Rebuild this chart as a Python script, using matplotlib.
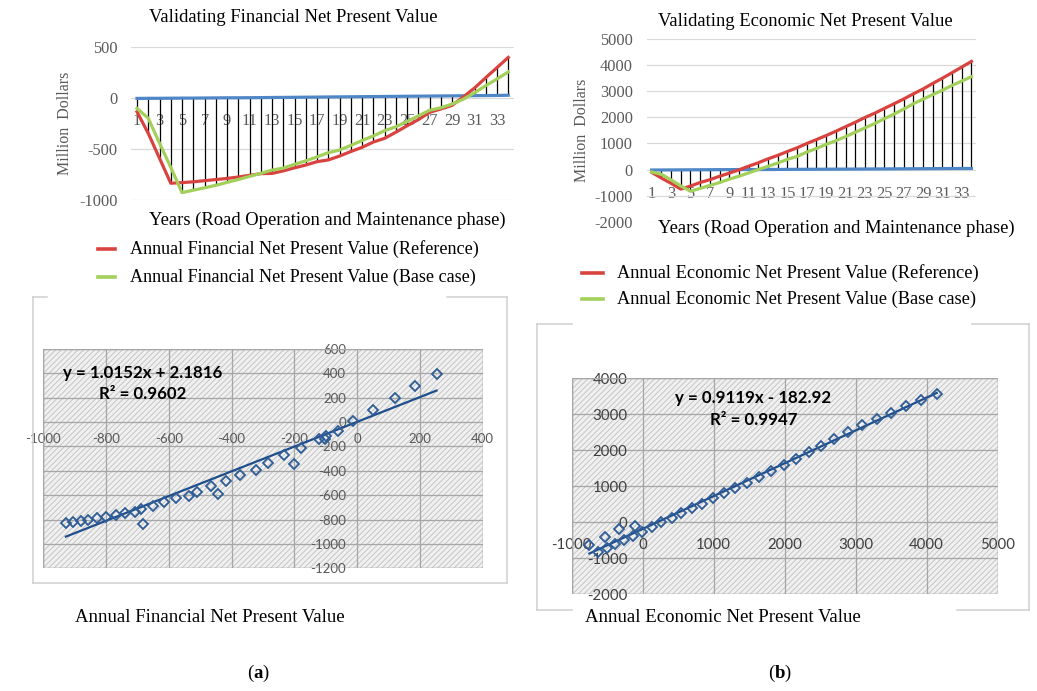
import numpy as np
import matplotlib
matplotlib.use("Agg")
from matplotlib import pyplot as plt
from matplotlib.lines import Line2D
from matplotlib.patches import Rectangle

W, H = 1037, 691
SERIF = "Liberation Serif"
SANS = "Lato"
RED = "#d9433f"
GREEN = "#a2d05a"
BLUE = "#4f86c6"
MARK = "#2e5c96"

years = np.arange(1, 35)

# financial NPV (million dollars): x = base case, y = reference in the fit plot
fin_base = [-104, -200, -444, -681, -928, -904, -881, -856, -828, -800,
            -769, -739, -707, -688, -651, -617, -578, -537, -511, -466,
            -418, -374, -322, -284, -232, -178, -122, -98, -61, -14,
            50, 119, 184, 253]
fin_ref = [-137, -348, -592, -836, -830, -822, -811, -800, -789, -775,
           -759, -742, -740, -715, -685, -658, -625, -608, -570, -526,
           -485, -433, -397, -337, -274, -214, -142, -110, -74, 8,
           96, 197, 296, 395]
fin_flat = [-6, -5, -5, -4, -3, -3, -2, -1, 0, 0,
            1, 2, 3, 4, 5, 6, 7, 8, 9, 10,
            11, 12, 13, 14, 15, 16, 17, 18, 19, 20,
            21, 22, 23, 25]

# economic NPV: x = reference, y = base case in the fit plot
econ_ref = [-108, -329, -531, -751, -634, -498, -390, -258, -141, -14,
            127, 258, 408, 540, 690, 831, 995, 1146, 1300, 1465,
            1638, 1808, 1991, 2155, 2338, 2516, 2700, 2897, 3085, 3296,
            3498, 3709, 3925, 4141]
econ_base = [-93, -185, -398, -630, -833, -722, -611, -500, -370, -259,
             -130, 0, 120, 250, 389, 500, 667, 806, 963, 1102,
             1259, 1426, 1593, 1759, 1944, 2120, 2315, 2519, 2694, 2870,
             3037, 3222, 3389, 3556]
econ_flat = [-20, -18, -16, -14, -12, -10, -8, -6, -5, -3,
             -2, 0, 1, 3, 5, 7, 8, 10, 12, 14,
             15, 17, 19, 21, 23, 25, 27, 29, 31, 33,
             35, 37, 39, 40]

fin_fit = (1.0152, 2.1816, 0.9602)
econ_fit = (0.9119, -182.92, 0.9947)


def fx(px):
    return px / W


def fy(py):
    return 1 - py / H


def px_axes(fig, left, top, right, bottom):
    return fig.add_axes([left / W, 1 - bottom / H, (right - left) / W, (bottom - top) / H])


def draw_lines(ax, ref, base, flat, ylim, yticks, xpad):
    ref, base, flat = np.array(ref), np.array(base), np.array(flat)
    lo = np.minimum(np.minimum(ref, base), flat)
    hi = np.maximum(np.maximum(ref, base), flat)
    ax.vlines(years, lo, hi, color="black", lw=0.9, zorder=2)
    ax.plot(years, flat, color=BLUE, lw=2.3, zorder=3)
    ax.plot(years, ref, color=RED, lw=2.3, zorder=4)
    ax.plot(years, base, color=GREEN, lw=2.3, zorder=5)
    ax.set_xlim(0.5, 34.5)
    ax.set_ylim(*ylim)
    ax.set_yticks(yticks)
    ax.set_xticks(years[::2])
    ax.grid(axis="y", color="#d9d9d9", lw=0.9)
    ax.set_axisbelow(True)
    for s in ax.spines.values():
        s.set_visible(False)
    ax.spines["bottom"].set_position(("data", 0))
    ax.tick_params(length=0, labelcolor="#595959", labelsize=11.8)
    ax.tick_params(axis="y", pad=10)
    ax.tick_params(axis="x", pad=xpad)
    for lab in ax.get_xticklabels() + ax.get_yticklabels():
        lab.set_fontfamily(SERIF)
    ax.patch.set_alpha(0)


def draw_fit(ax, x, y, fit, xlim, ylim, step_x, step_y, size, color, xpad, ypad):
    x, y = np.array(x), np.array(y)
    ax.add_patch(Rectangle((0, 0), 1, 1, transform=ax.transAxes, facecolor="#f0f0f0",
                           edgecolor="#c6c6c6", hatch="//////", lw=0, zorder=0))
    ax.add_patch(Rectangle((0, 0), 1, 1, transform=ax.transAxes, fill=False,
                           edgecolor="#a6a6a6", lw=1, zorder=1))
    ax.plot(x, y, ls="none", marker="D", ms=5.4, mfc="none", mec=MARK, mew=1.3, zorder=4)
    xs = np.array([x.min(), x.max()])
    ax.plot(xs, fit[0] * xs + fit[1], color="#1f4e8c", lw=1.6, zorder=3)
    ax.set_xlim(*xlim)
    ax.set_ylim(*ylim)
    ax.set_xticks(np.arange(xlim[0], xlim[1] + 1, step_x))
    ax.set_yticks(np.arange(ylim[0], ylim[1] + 1, step_y))
    ax.grid(color="#a6a6a6", lw=0.9)
    ax.set_axisbelow(True)
    for s in ax.spines.values():
        s.set_visible(False)
    ax.spines["bottom"].set_position(("data", 0))
    ax.spines["left"].set_position(("data", 0))
    ax.tick_params(length=0, labelcolor=color, labelsize=size)
    ax.tick_params(axis="x", pad=xpad)
    ax.tick_params(axis="y", pad=ypad)
    for lab in ax.get_xticklabels() + ax.get_yticklabels():
        lab.set_fontfamily(SANS)
    ax.patch.set_alpha(0)


def frame(fig, left, top, right, bottom, top_gap=None, bottom_gap=None):
    kw = dict(transform=fig.transFigure, color="#d0d0d0", lw=1.1)
    fig.add_artist(Line2D([fx(left), fx(left)], [fy(top), fy(bottom)], **kw))
    fig.add_artist(Line2D([fx(right), fx(right)], [fy(top), fy(bottom)], **kw))
    for yy, gap in ((top, top_gap), (bottom, bottom_gap)):
        if gap is None:
            fig.add_artist(Line2D([fx(left), fx(right)], [fy(yy), fy(yy)], **kw))
        else:
            fig.add_artist(Line2D([fx(left), fx(gap[0])], [fy(yy), fy(yy)], **kw))
            fig.add_artist(Line2D([fx(gap[1]), fx(right)], [fy(yy), fy(yy)], **kw))


def legend_rows(fig, x0, x1, tx, rows, size):
    for yy, col, label in rows:
        fig.add_artist(Line2D([fx(x0), fx(x1)], [fy(yy), fy(yy)], transform=fig.transFigure,
                              color=col, lw=2.6))
        fig.text(fx(tx), fy(yy), label, family=SERIF, size=size, va="center", ha="left")


plt.rcParams["mathtext.fontset"] = "custom"
plt.rcParams["mathtext.bf"] = "Liberation Serif:bold"
plt.rcParams["hatch.linewidth"] = 0.7
plt.rcParams["axes.unicode_minus"] = False

fig = plt.figure(figsize=(W / 100, H / 100), dpi=100)

# (a) top: financial NPV by year
ax1 = px_axes(fig, 131.4, 46.7, 513.9, 200)
draw_lines(ax1, fin_ref, fin_base, fin_flat, (-1000, 500), [-1000, -500, 0, 500], 11)
fig.text(fx(293), fy(18), "Validating Financial Net Present Value", family=SERIF, size=13.4,
         ha="center", va="center")
fig.text(fx(65), fy(123), "Million  Dollars", family=SERIF, size=11.5, color="#595959",
         rotation=90, ha="center", va="center")
fig.text(fx(327), fy(220), "Years (Road Operation and Maintenance phase)", family=SERIF,
         size=13.4, ha="center", va="center")
legend_rows(fig, 98, 115, 130, [
    (249, RED, "Annual Financial Net Present Value (Reference)"),
    (277, GREEN, "Annual Financial Net Present Value (Base case)"),
], 13.1)

# (b) top: economic NPV by year
ax2 = px_axes(fig, 646.9, 39, 976.3, 221.7)
draw_lines(ax2, econ_ref, econ_base, econ_flat, (-2000, 5000), np.arange(-2000, 5001, 1000), 12)
fig.text(fx(805), fy(21), "Validating Economic Net Present Value", family=SERIF, size=13.4,
         ha="center", va="center")
fig.text(fx(582), fy(130), "Million  Dollars", family=SERIF, size=11.5, color="#595959",
         rotation=90, ha="center", va="center")
fig.text(fx(836), fy(228), "Years (Road Operation and Maintenance phase)", family=SERIF,
         size=13.4, ha="center", va="center")
legend_rows(fig, 582, 603, 617, [
    (273, RED, "Annual Economic Net Present Value (Reference)"),
    (299, GREEN, "Annual Economic Net Present Value (Base case)"),
], 13.2)

# (a) bottom: base case vs reference fit
frame(fig, 33, 297, 507, 583, top_gap=(47, 447))
ax3 = px_axes(fig, 43.3, 349, 482.7, 568.3)
draw_fit(ax3, fin_base, fin_ref, fin_fit, (-1000, 400), (-1200, 600), 200, 200,
         9.5, "#595959", 7.5, 8)
fig.text(fx(63), fy(373), f"y = {fin_fit[0]}x + {fin_fit[1]}", family=SANS, weight="bold",
         size=12.2, ha="left", va="center")
fig.text(fx(99), fy(394), f"R² = {fin_fit[2]}", family=SANS, weight="bold",
         size=12.2, ha="left", va="center")
fig.text(fx(75), fy(617), "Annual Financial Net Present Value", family=SERIF, size=13.5,
         ha="left", va="center")

# (b) bottom: reference vs base case fit
frame(fig, 537, 324, 1029, 610, top_gap=(572, 972), bottom_gap=(572, 957))
ax4 = px_axes(fig, 571.7, 378.3, 997.7, 594.3)
draw_fit(ax4, econ_ref, econ_base, econ_fit, (-1000, 5000), (-2000, 4000), 1000, 1000,
         10.8, "#404040", 11, 11)
fig.text(fx(675), fy(398), f"y = {econ_fit[0]}x - {abs(econ_fit[1])}", family=SANS,
         weight="bold", size=12.2, ha="left", va="center")
fig.text(fx(710), fy(420), f"R² = {econ_fit[2]}", family=SANS, weight="bold",
         size=12.2, ha="left", va="center")
fig.text(fx(585), fy(617), "Annual Economic Net Present Value", family=SERIF, size=13.5,
         ha="left", va="center")

fig.text(fx(258), fy(673), r"($\mathbf{a}$)", family=SERIF, size=13.5, ha="center", va="center")
fig.text(fx(780), fy(673), r"($\mathbf{b}$)", family=SERIF, size=13.5, ha="center", va="center")

fig.savefig("out.png", dpi=100)
